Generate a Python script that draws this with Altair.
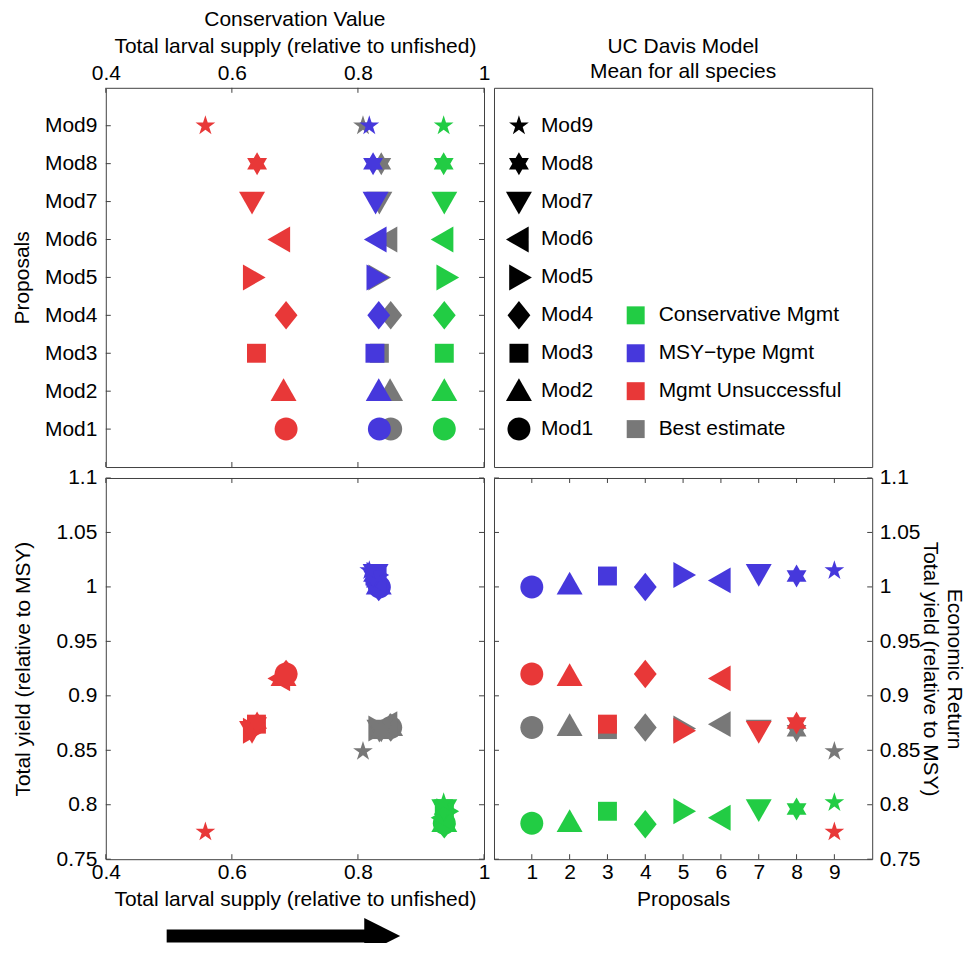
import math
import altair as alt
import pandas as pd

# ---------------- data ----------------
proposals = [1, 2, 3, 4, 5, 6, 7, 8, 9]
mod_labels = ["Mod1", "Mod2", "Mod3", "Mod4", "Mod5", "Mod6", "Mod7", "Mod8", "Mod9"]

scenario_names = ["Best estimate", "Conservative Mgmt", "MSY\u2212type Mgmt", "Mgmt Unsuccessful"]
scenario_colors = ["#787878", "#22cc44", "#4638dc", "#e83838"]

larval_best = [0.852, 0.851, 0.834, 0.852, 0.832, 0.847, 0.834, 0.837, 0.808]
larval_cons = [0.937, 0.937, 0.937, 0.937, 0.940, 0.936, 0.937, 0.936, 0.936]
larval_msy = [0.834, 0.833, 0.827, 0.833, 0.829, 0.830, 0.828, 0.824, 0.818]
larval_unsuc = [0.686, 0.682, 0.639, 0.686, 0.633, 0.677, 0.632, 0.640, 0.558]

yield_best = [0.871, 0.872, 0.869, 0.871, 0.870, 0.874, 0.869, 0.868, 0.849]
yield_cons = [0.783, 0.784, 0.794, 0.782, 0.794, 0.788, 0.796, 0.796, 0.802]
yield_msy = [1.000, 1.002, 1.010, 1.000, 1.011, 1.006, 1.012, 1.010, 1.015]
yield_unsuc = [0.920, 0.918, 0.874, 0.920, 0.868, 0.916, 0.868, 0.875, 0.775]

larval_ticks = [0.4, 0.6, 0.8, 1.0]
yield_ticks = [0.75, 0.8, 0.85, 0.9, 0.95, 1.0, 1.05, 1.1]

legend_color_labels = ["Conservative Mgmt", "MSY\u2212type Mgmt", "Mgmt Unsuccessful", "Best estimate"]
legend_color_rows = [4, 3, 2, 1]

# ---------------- marker shapes (style) ----------------
def poly(pts):
    return "M" + "L".join(f"{x:.4f},{y:.4f}" for x, y in pts) + "Z"

def star_path(n, r_out, r_in):
    pts = []
    for k in range(2 * n):
        a = math.pi * k / n
        r = r_out if k % 2 == 0 else r_in
        pts.append((r * math.sin(a), -r * math.cos(a)))
    return poly(pts)

rc = 0.885
shape_paths = [
    f"M{-rc},0A{rc},{rc},0,1,0,{rc},0A{rc},{rc},0,1,0,{-rc},0Z",   # circle
    poly([(0, -1.0), (1.0, 0.75), (-1.0, 0.75)]),                   # triangle up
    poly([(-0.73, -0.73), (0.73, -0.73), (0.73, 0.73), (-0.73, 0.73)]),  # square
    poly([(0, -1.1), (0.88, 0), (0, 1.1), (-0.88, 0)]),             # diamond
    poly([(-0.75, -1.0), (1.0, 0), (-0.75, 1.0)]),                  # triangle right
    poly([(0.75, -1.0), (-1.0, 0), (0.75, 1.0)]),                   # triangle left
    poly([(0, 1.0), (1.0, -0.75), (-1.0, -0.75)]),                  # triangle down
    star_path(6, 0.885, 0.885 / math.sqrt(3)),                      # hexagram
    star_path(5, 0.80, 0.80 * 0.382),                               # pentagram
]
SYM = 676
FONT = "Liberation Sans"
FS = 21
FRAME = "#404040"

# ---------------- tables ----------------
rows = []
for name, xs, ys in [
    (scenario_names[0], larval_best, yield_best),
    (scenario_names[1], larval_cons, yield_cons),
    (scenario_names[2], larval_msy, yield_msy),
    (scenario_names[3], larval_unsuc, yield_unsuc),
]:
    for p, m, x, y in zip(proposals, mod_labels, xs, ys):
        rows.append({"scenario": name, "proposal": p, "mod": m, "larval": x, "yld": y})
df = pd.DataFrame(rows)

color_scale = alt.Scale(domain=scenario_names, range=scenario_colors)
shape_scale = alt.Scale(domain=mod_labels, range=shape_paths)

W, H_TOP, H_BOT = 379, 380, 382

x_larval = alt.Scale(domain=[0.4, 1.0], nice=False, zero=False)
y_prop = alt.Scale(domain=[0, 10], nice=False)
x_prop = alt.Scale(domain=[0, 10], nice=False)
y_yield = alt.Scale(domain=[0.75, 1.1], nice=False, zero=False)


def ticks_layers(xs, xaxis, xvals, ys, yaxis, yvals, w, h, tl=5):
    out = []
    d = pd.DataFrame({"t": xvals})
    for y0, y1 in [(0, tl), (h - tl, h)]:
        out.append(
            alt.Chart(d).mark_rule(color=FRAME, strokeWidth=1).encode(
                x=alt.X("t:Q", scale=xs, axis=xaxis),
                y=alt.value(y0), y2=alt.value(y1),
            )
        )
    d = pd.DataFrame({"t": yvals})
    for x0, x1 in [(0, tl), (w - tl, w)]:
        out.append(
            alt.Chart(d).mark_rule(color=FRAME, strokeWidth=1).encode(
                y=alt.Y("t:Q", scale=ys, axis=yaxis),
                x=alt.value(x0), x2=alt.value(x1),
            )
        )
    return out


def points(xfield, xs, xaxis, yfield, ys, yaxis):
    return alt.Chart(df).mark_point(filled=True, size=SYM, opacity=1, strokeWidth=0).encode(
        x=alt.X(xfield, scale=xs, axis=xaxis),
        y=alt.Y(yfield, scale=ys, axis=yaxis),
        color=alt.Color("scenario:N", scale=color_scale, legend=None),
        shape=alt.Shape("mod:N", scale=shape_scale, legend=None),
    )


# ---- top-left: conservation value ----
tl_xaxis = alt.Axis(orient="top", values=larval_ticks, format="~g",
                    title="Total larval supply (relative to unfished)",
                    labelPadding=4, titlePadding=6)
tl_yaxis = alt.Axis(values=proposals, labelExpr="'Mod' + datum.value",
                    title="Proposals", labelPadding=9, titlePadding=12)
tl = alt.layer(
    points("larval:Q", x_larval, tl_xaxis, "proposal:Q", y_prop, tl_yaxis),
    *ticks_layers(x_larval, tl_xaxis, larval_ticks, y_prop, tl_yaxis, proposals, W, H_TOP),
).properties(
    width=W, height=H_TOP,
    title=alt.TitleParams("Conservation Value", fontSize=FS, font=FONT, fontWeight="normal",
                          anchor="middle", frame="group", offset=6, color="black"))

# ---- top-right: legend panel ----
leg_shape_df = pd.DataFrame({"mod": mod_labels, "row": proposals})
leg_color_df = pd.DataFrame({"scenario": legend_color_labels, "row": legend_color_rows})
yrow = alt.Y("row:Q", scale=y_prop, axis=None)
leg_shapes = alt.Chart(leg_shape_df).mark_point(filled=True, size=SYM, opacity=1, strokeWidth=0,
                                                color="black").encode(
    x=alt.value(25), y=yrow,
    shape=alt.Shape("mod:N", scale=shape_scale, legend=None))
leg_shape_txt = alt.Chart(leg_shape_df).mark_text(align="left", baseline="middle", fontSize=FS,
                                                  font=FONT, color="black").encode(
    x=alt.value(47), y=yrow, text="mod:N")
leg_sq = alt.Chart(leg_color_df).mark_square(filled=True, size=324, opacity=1).encode(
    x=alt.value(142), y=yrow,
    color=alt.Color("scenario:N", scale=color_scale, legend=None))
leg_sq_txt = alt.Chart(leg_color_df).mark_text(align="left", baseline="middle", fontSize=FS,
                                               font=FONT, color="black").encode(
    x=alt.value(165), y=yrow, text="scenario:N")
tr = alt.layer(leg_shapes, leg_shape_txt, leg_sq, leg_sq_txt).properties(
    width=W, height=H_TOP,
    title=alt.TitleParams(["UC Davis Model", "Mean for all species"], fontSize=FS, font=FONT,
                          fontWeight="normal", anchor="middle", offset=6, lineHeight=25,
                          color="black"))

# ---- bottom-left: yield vs larval supply ----
bl_xaxis = alt.Axis(values=larval_ticks, format="~g",
                    title="Total larval supply (relative to unfished)",
                    labelPadding=2, titlePadding=6)
bl_yaxis = alt.Axis(values=yield_ticks, format="~g",
                    title="Total yield (relative to MSY)", labelPadding=9, titlePadding=23)
deco = pd.DataFrame({"k": [0]})
arrow_shaft = alt.Chart(deco).mark_rule(strokeWidth=13, color="black").encode(
    x=alt.value(61), x2=alt.value(262), y=alt.value(459))
arrow_head = alt.Chart(deco).mark_point(shape="M-1,-1L1,0L-1,1Z", filled=True, size=1296,
                                        color="black", opacity=1, strokeWidth=0).encode(
    x=alt.value(277), y=alt.value(459))
bl = alt.layer(
    points("larval:Q", x_larval, bl_xaxis, "yld:Q", y_yield, bl_yaxis),
    *ticks_layers(x_larval, bl_xaxis, larval_ticks, y_yield, bl_yaxis, yield_ticks, W, H_BOT),
    arrow_shaft, arrow_head,
).properties(width=W, height=H_BOT)

# ---- bottom-right: yield by proposal ----
br_xaxis = alt.Axis(values=proposals, format="d", title="Proposals",
                    labelPadding=2, titlePadding=6)
br_yaxis = alt.Axis(orient="right", values=yield_ticks, format="~g",
                    title=["Economic Return", "Total yield (relative to MSY)"],
                    labelPadding=7, titlePadding=0, titleLineHeight=24)
br = alt.layer(
    points("proposal:Q", x_prop, br_xaxis, "yld:Q", y_yield, br_yaxis),
    *ticks_layers(x_prop, br_xaxis, proposals, y_yield, br_yaxis, yield_ticks, W, H_BOT),
).properties(width=W, height=H_BOT)

chart = alt.concat(tl, tr, bl, br, columns=2, spacing={"row": 11, "column": 10}, bounds="flush").configure(
    font=FONT, padding={"left": 2, "top": -1, "right": 0, "bottom": -13}
).configure_view(stroke=FRAME, strokeWidth=1).configure_axis(
    labelFont=FONT, titleFont=FONT, labelFontSize=FS, titleFontSize=FS,
    labelColor="black", titleColor="black", titleFontWeight="normal",
    grid=False, domain=False, ticks=False, tickSize=0,
    labelFlush=False, labelOverlap=False, labelBound=False,
)

chart.save("out.html", embed_options={"renderer": "svg", "actions": False})
